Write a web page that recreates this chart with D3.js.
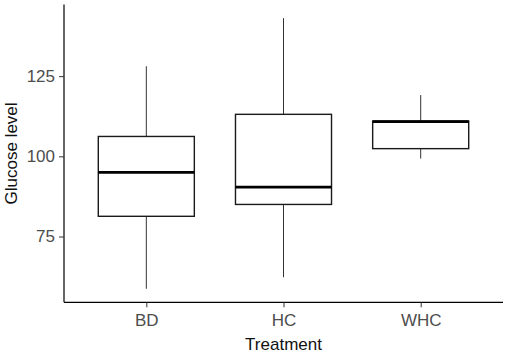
<!DOCTYPE html>
<html>
<head>
<meta charset="utf-8">
<script src="https://cdn.jsdelivr.net/npm/d3@7"></script>
<style>
  html, body { margin: 0; padding: 0; background: #fff; }
  svg { display: block; font-family: "Liberation Sans", Arial, sans-serif; }
</style>
</head>
<body>
<svg id="chart" width="510" height="353"></svg>
<script>
// Data
const categories = ["BD", "HC", "WHC"];
const whiskerLow  = [58.7, 62.3, 99.3];
const q1          = [81.3, 85.0, 102.4];
const median      = [95.0, 90.4, 110.8];
const q3          = [106.2, 113.1, 111.0];
const whiskerHigh = [128.1, 143.1, 119.1];
const yTicks = [75, 100, 125];

const svg = d3.select("#chart");
const pLeft = 64, pRight = 503, pTop = 4.6, pBottom = 302.3;

const lo = d3.min(whiskerLow), hi = d3.max(whiskerHigh);
const pad = (hi - lo) * 0.05;
const y = d3.scaleLinear().domain([lo - pad, hi + pad]).range([pBottom, pTop]);
const x = d3.scalePoint().domain(categories).range([pLeft, pRight]).padding(0.6);
const boxW = x.step() * 0.7;

const data = categories.map((c, i) => ({
  c, lo: whiskerLow[i], q1: q1[i], med: median[i], q3: q3[i], hi: whiskerHigh[i]
}));

// Boxes
const g = svg.append("g");
data.forEach(d => {
  const cx = x(d.c);
  g.append("line").attr("x1", cx).attr("x2", cx)
    .attr("y1", y(d.q3)).attr("y2", y(d.hi))
    .attr("stroke", "#333").attr("stroke-width", 1);
  g.append("line").attr("x1", cx).attr("x2", cx)
    .attr("y1", y(d.q1)).attr("y2", y(d.lo))
    .attr("stroke", "#333").attr("stroke-width", 1);
  g.append("rect")
    .attr("x", cx - boxW / 2).attr("width", boxW)
    .attr("y", y(d.q3)).attr("height", y(d.q1) - y(d.q3))
    .attr("fill", "#fff").attr("stroke", "#1a1a1a").attr("stroke-width", 1.4);
  g.append("line")
    .attr("x1", cx - boxW / 2).attr("x2", cx + boxW / 2)
    .attr("y1", y(d.med)).attr("y2", y(d.med))
    .attr("stroke", "#000").attr("stroke-width", 2.8);
});

// Y axis
const yAxis = svg.append("g").attr("transform", `translate(${pLeft},0)`)
  .call(d3.axisLeft(y).tickValues(yTicks).tickSize(5).tickPadding(4).tickSizeOuter(0));
yAxis.select(".domain").attr("d", `M0,${pBottom}V${pTop}`).attr("stroke", "#000").attr("stroke-width", 1.2);
yAxis.selectAll(".tick line").attr("stroke", "#333").attr("stroke-width", 1);
yAxis.selectAll(".tick text").attr("font-size", 17).attr("fill", "#4d4d4d")
  .attr("font-family", "Liberation Sans, Arial, sans-serif");

// X axis
const xAxis = svg.append("g").attr("transform", `translate(0,${pBottom})`)
  .call(d3.axisBottom(x).tickSize(5).tickPadding(7).tickSizeOuter(0));
xAxis.select(".domain").attr("d", `M${pLeft},0H${pRight}`).attr("stroke", "#000").attr("stroke-width", 1.2);
xAxis.selectAll(".tick line").attr("stroke", "#333").attr("stroke-width", 1);
xAxis.selectAll(".tick text").attr("font-size", 17).attr("fill", "#4d4d4d")
  .attr("font-family", "Liberation Sans, Arial, sans-serif");

// Axis titles
svg.append("text").attr("x", (pLeft + pRight) / 2).attr("y", 350)
  .attr("text-anchor", "middle").attr("font-size", 17).attr("fill", "#111")
  .text("Treatment");
svg.append("text")
  .attr("transform", `translate(17,${(pTop + pBottom) / 2}) rotate(-90)`)
  .attr("text-anchor", "middle").attr("font-size", 17).attr("fill", "#111")
  .text("Glucose level");
</script>
</body>
</html>
